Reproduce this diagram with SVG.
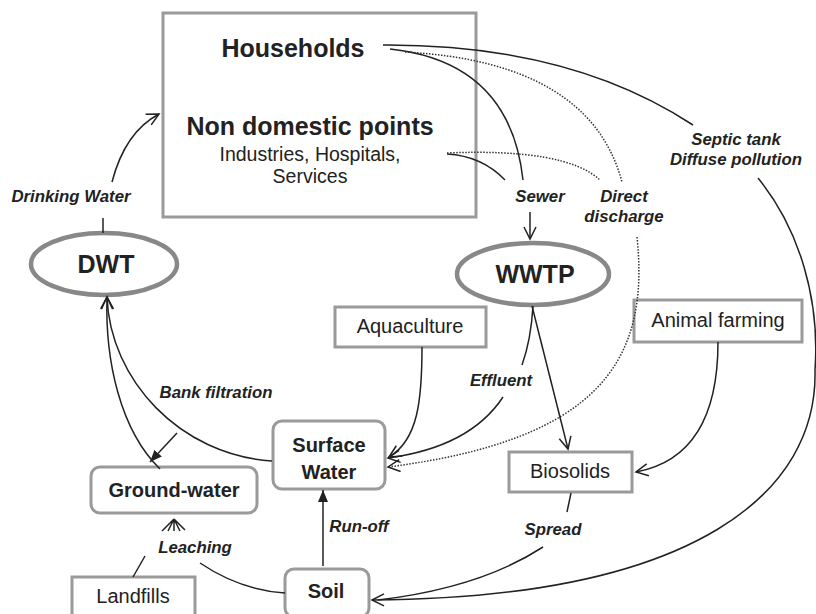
<svg xmlns="http://www.w3.org/2000/svg" width="816" height="614" viewBox="0 0 816 614">
<style>
.box{fill:#fff;stroke:#9a9a9a;stroke-width:3}
.ell{fill:#fff;stroke:#888;stroke-width:4.5}
.t{font-family:"Liberation Sans",Arial,sans-serif;fill:#222;text-anchor:middle}
.b{font-weight:bold}
.lab{font-family:"Liberation Sans",Arial,sans-serif;font-weight:bold;font-style:italic;font-size:16.8px;fill:#222;text-anchor:middle}
.c{fill:none;stroke:#222;stroke-width:1.5}
.d{fill:none;stroke:#333;stroke-width:1.5;stroke-dasharray:1.5 1.5}
</style>
<defs>
<marker id="open" markerUnits="userSpaceOnUse" markerWidth="16" markerHeight="16" refX="14" refY="7" orient="auto">
<path d="M2,1 L14,7 L2,13" fill="none" stroke="#222" stroke-width="1.5"/>
</marker>
<marker id="fill" markerUnits="userSpaceOnUse" markerWidth="14" markerHeight="14" refX="12" refY="6" orient="auto">
<path d="M0,1 L12,6 L0,11 Z" fill="#222"/>
</marker>
</defs>

<g id="sources">
<rect class="box" x="163" y="13" width="313" height="204"/>
<text class="t b" x="293" y="57" font-size="25">Households</text>
<text class="t b" x="310" y="135" font-size="25">Non domestic points</text>
<text class="t" x="310" y="161" font-size="19.5">Industries, Hospitals,</text>
<text class="t" x="310" y="183" font-size="19.5">Services</text>
</g>
<g id="dwt">
<ellipse class="ell" cx="104" cy="264" rx="73" ry="31"/>
<text class="t b" x="106" y="273" font-size="25">DWT</text>
</g>
<g id="wwtp">
<ellipse class="ell" cx="533" cy="274" rx="76" ry="31"/>
<text class="t b" x="535" y="283" font-size="25">WWTP</text>
</g>
<g id="aquaculture">
<rect class="box" x="335" y="307" width="151" height="40"/>
<text class="t" x="410" y="333" font-size="20">Aquaculture</text>
</g>
<g id="animal-farming">
<rect class="box" x="634" y="300" width="168" height="42"/>
<text class="t" x="718" y="327" font-size="20">Animal farming</text>
</g>
<g id="biosolids">
<rect class="box" x="509" y="452" width="123" height="40"/>
<text class="t" x="570" y="478" font-size="20">Biosolids</text>
</g>
<g id="surface-water">
<rect class="box" x="273" y="421" width="112" height="68" rx="9"/>
<text class="t b" x="329" y="452" font-size="20">Surface</text>
<text class="t b" x="329" y="479" font-size="20">Water</text>
</g>
<g id="ground-water">
<rect class="box" x="91" y="467" width="166" height="46" rx="9"/>
<text class="t b" x="174" y="497" font-size="20">Ground-water</text>
</g>
<g id="soil">
<rect class="box" x="285" y="569" width="84" height="48" rx="9"/>
<text class="t b" x="326" y="598" font-size="20">Soil</text>
</g>
<g id="landfills">
<rect class="box" x="72" y="577" width="123" height="45"/>
<text class="t" x="133" y="603" font-size="20">Landfills</text>
</g>

<g id="connectors">
<path class="c" d="M103,233 L103,218"/>
<path class="c" d="M112,182 Q125,132 159,114" marker-end="url(#open)"/>
<path class="c" d="M383,45 Q570,44 693,125"/>
<path class="c" d="M390,49 Q510,62 523,180"/>
<path class="d" d="M405,52 Q590,62 622,182"/>
<path class="c" d="M447,154 Q482,156 505,180"/>
<path class="d" d="M447,153 Q565,148 600,180"/>
<path class="c" d="M530,212 L530,239" marker-end="url(#open)"/>
<path class="d" d="M637,237 C650,360 600,440 388,467" marker-end="url(#open)"/>
<path class="c" d="M758,178 C800,230 820,300 815,370 C818,490 700,598 372,600" marker-end="url(#open)"/>
<path class="c" d="M571,493 L567,512"/>
<path class="c" d="M543,547 Q480,588 378,600"/>
<path class="c" d="M532,306 L568,449" marker-end="url(#open)"/>
<path class="c" d="M533,306 Q531,340 522,365"/>
<path class="c" d="M503,397 Q470,447 388,458" marker-end="url(#open)"/>
<path class="c" d="M422,347 C422,400 418,440 389,457" marker-end="url(#open)"/>
<path class="c" d="M718,342 C718,420 690,462 636,472" marker-end="url(#open)"/>
<path class="c" d="M272,461 C180,455 110,380 107,297" marker-end="url(#open)"/>
<path class="c" d="M160,469 C120,430 105,360 107,297" marker-end="url(#open)"/>
<path class="c" d="M177,433 L150,462" marker-end="url(#fill)"/>
<path class="c" d="M323,566 L323,490" marker-end="url(#fill)"/>
<path class="c" d="M285,593 Q240,590 200,563"/>
<path class="c" d="M133,577 L145,556"/>
<path class="c" d="M174,519 L162,531 M174,519 L168,531 M174,519 L174,531 M174,519 L180,531 M174,519 L185,530"/>
</g>

<g id="labels">
<text class="lab" x="71" y="202">Drinking Water</text>
<text class="lab" x="540" y="202">Sewer</text>
<text class="lab" x="624" y="202">Direct</text>
<text class="lab" x="624" y="222">discharge</text>
<text class="lab" x="736" y="145">Septic tank</text>
<text class="lab" x="736" y="165">Diffuse pollution</text>
<text class="lab" x="216" y="398">Bank filtration</text>
<text class="lab" x="501" y="386">Effluent</text>
<text class="lab" x="359" y="532">Run-off</text>
<text class="lab" x="195" y="553">Leaching</text>
<text class="lab" x="553" y="535">Spread</text>
</g>
</svg>
